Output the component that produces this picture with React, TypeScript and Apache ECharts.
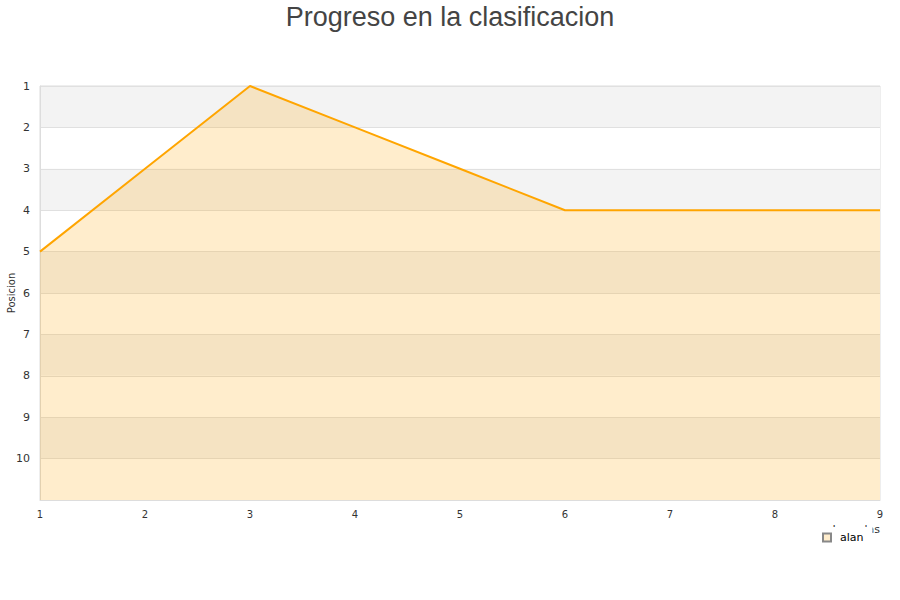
import React, { useEffect, useRef } from "react";
import * as echarts from "echarts";

const rounds = [1, 2, 3, 4, 5, 6, 7, 8, 9];
const positions = [5, 3, 1, 2, 3, 4, 4, 4, 4];
const seriesName = "alan";
const titleText = "Progreso en la clasificacion";
const yName = "Posicion";
const xName = "Jornadas";

export default function App() {
  const ref = useRef<HTMLDivElement>(null);
  useEffect(() => {
    if (!ref.current) return;
    const chart = echarts.init(ref.current, undefined, { renderer: "svg" });
    chart.setOption({
      animation: false,
      title: {
        text: titleText,
        left: "center",
        top: -2,
        textStyle: { fontFamily: "Liberation Sans", fontSize: 27, fontWeight: "normal", color: "#444" },
      },
      grid: {
        left: 40,
        right: 20,
        top: 86,
        bottom: 100,
        outerBoundsMode: "none",
        containLabel: false,
        show: true,
        borderColor: "#ddd",
        borderWidth: 1,
        backgroundColor: "transparent",
      },
      xAxis: {
        type: "value",
        min: 1,
        max: 9,
        interval: 1,
        name: xName,
        nameLocation: "end",
        nameGap: 0,
        nameMoveOverlap: false,
        nameTextStyle: { fontFamily: "DejaVu Sans", fontSize: 11, color: "#333", align: "right", verticalAlign: "top", padding: [24, 0, 0, 0] },
        axisLine: { show: true, lineStyle: { color: "#ddd" } },
        axisTick: { show: false },
        axisLabel: { fontFamily: "DejaVu Sans", fontSize: 10, color: "#333", margin: 9 },
        splitLine: { show: false },
      },
      yAxis: {
        type: "value",
        inverse: true,
        min: 1,
        max: 11,
        interval: 1,
        name: yName,
        nameLocation: "middle",
        nameGap: 24,
        nameMoveOverlap: false,
        nameTextStyle: { fontFamily: "DejaVu Sans", fontSize: 10, color: "#333" },
        axisLine: { show: true, lineStyle: { color: "#ddd" } },
        axisTick: { show: false },
        axisLabel: {
          fontFamily: "DejaVu Sans",
          fontSize: 11,
          color: "#333",
          margin: 10,
          formatter: (v: number) => (v >= 11 ? "" : String(v)),
        },
        splitLine: { show: true, lineStyle: { color: "#e0e0e0" } },
        splitArea: { show: true, areaStyle: { color: ["#f3f3f3", "#ffffff"] } },
      },
      legend: {
        data: [seriesName],
        left: 814,
        top: 527,
        backgroundColor: "#ffffff",
        padding: [5, 9, 5, 8],
        itemWidth: 8,
        itemHeight: 8,
        itemGap: 10,
        icon: "rect",
        textStyle: { fontFamily: "DejaVu Sans", fontSize: 11, color: "#000", padding: [0, 0, 0, 4] },
        z: 10,
      },
      series: [
        {
          name: seriesName,
          type: "line",
          data: rounds.map((r, i) => [r, positions[i]]),
          showSymbol: false,
          symbol: "none",
          lineStyle: { color: "#ffa500", width: 2 },
          itemStyle: { color: "#ffedcc", borderColor: "#888", borderWidth: 1 },
          areaStyle: { color: "rgba(255,165,0,0.2)", opacity: 1, origin: "end" },
        },
      ],
    });
    return () => chart.dispose();
  }, []);
  return <div ref={ref} style={{ width: 900, height: 600, position: "absolute", left: 0, top: 0 }} />;
}
